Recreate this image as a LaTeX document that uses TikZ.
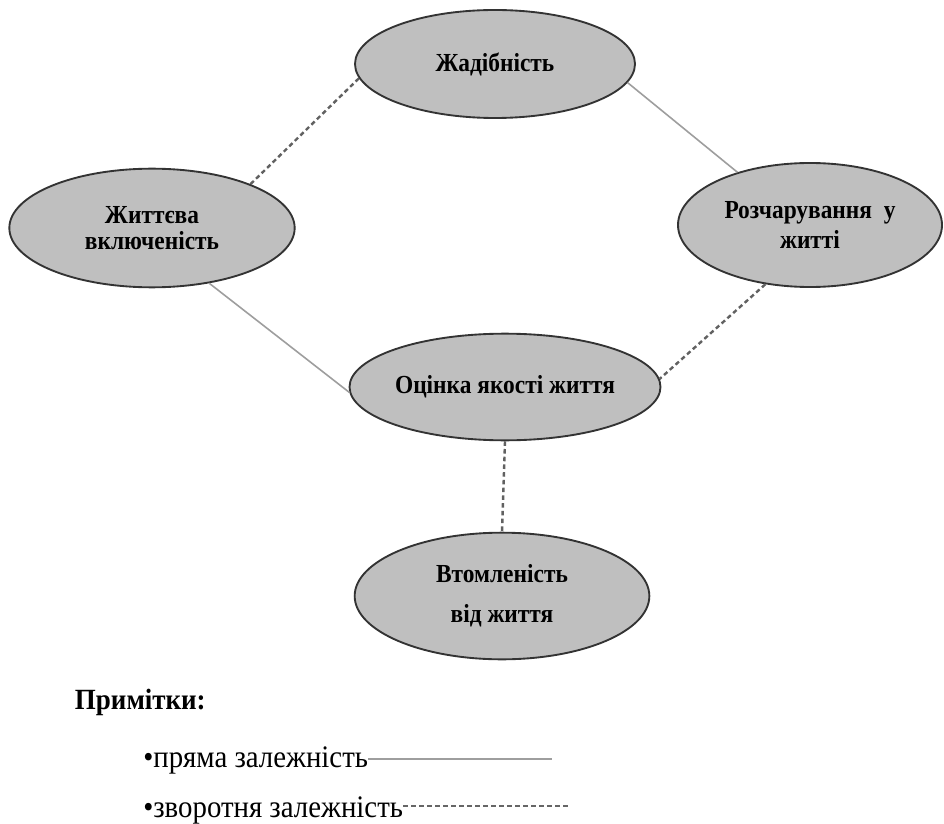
\documentclass[tikz,border=0pt]{standalone}
\usepackage{fontspec}
\setmainfont{LiberationSerif}[Extension=.ttf,UprightFont=*-Regular,BoldFont=*-Bold,ItalicFont=*-Italic,BoldItalicFont=*-BoldItalic]
\newfontfamily\factorfont{LiberationSerif}[Extension=.ttf,UprightFont=*-Regular,BoldFont=*-Bold,FakeStretch=0.9]
\newfontfamily\notefont{LiberationSerif}[Extension=.ttf,UprightFont=*-Regular,BoldFont=*-Bold,FakeStretch=0.92]
\usetikzlibrary{shapes.geometric}

\tikzset{
factor/.style={draw=black!80,line width=1.4pt,fill=black!25,ellipse,inner sep=0pt,
  align=center,font=\factorfont\fontsize{19.5}{22}\selectfont\bfseries},
direct/.style={draw=black!38,line width=1.2pt},
inverse/.style={draw=black!62,line width=1.8pt,dash pattern=on 3.4pt off 2.4pt},
legend/.style={anchor=base west,inner sep=0pt,font=\notefont\fontsize{23.5}{26}\selectfont},
legenddash/.style={draw=black!60,line width=0.8pt,dash pattern=on 3.6pt off 2.4pt}
}

\begin{document}
\begin{tikzpicture}[x=0.75pt,y=-0.75pt]
\useasboundingbox (0,0) rectangle (944,823);
\draw
(495,64) node[factor,minimum width=210pt,minimum height=81pt](jad){Жадібність}
(152,228) node[factor,minimum width=214pt,minimum height=89pt](zhyt){Життєва\\[-2pt]включеність}
(810,225) node[factor,minimum width=198pt,minimum height=93pt](roz){Розчарування\ \ у\\житті}
(505,387) node[factor,minimum width=198pt,minimum height=80pt](ots){Оцінка якості життя}
(502,596) node[factor,minimum width=221pt,minimum height=95pt](vtom){Втомленість\\[8pt]від життя}
;
%%% direct links
\foreach \a/\b in {jad.-8/roz.144, zhyt.-44/ots.182}{
\draw[direct](\a)--(\b);
}
%%% inverse links
\foreach \a/\b in {jad.186/zhyt.24, roz.233/ots.3, ots.south/vtom.north}{
\draw[inverse](\a)--(\b);
}
%%% notes
\node[anchor=base east,inner sep=0pt,font=\notefont\fontsize{22}{26}\selectfont\bfseries](notes) at (206,709){Примітки:};
\node[legend](pr) at (143,767){•пряма залежність};
\node[legend](zv) at (143,817){•зворотня залежність};
\coordinate (prend) at (552,759);
\coordinate (zvend) at (570,806);
\draw[direct,line width=1pt](pr.east |- prend)--(prend);
\draw[legenddash](zv.east |- zvend)--(zvend);
\end{tikzpicture}
\end{document}
